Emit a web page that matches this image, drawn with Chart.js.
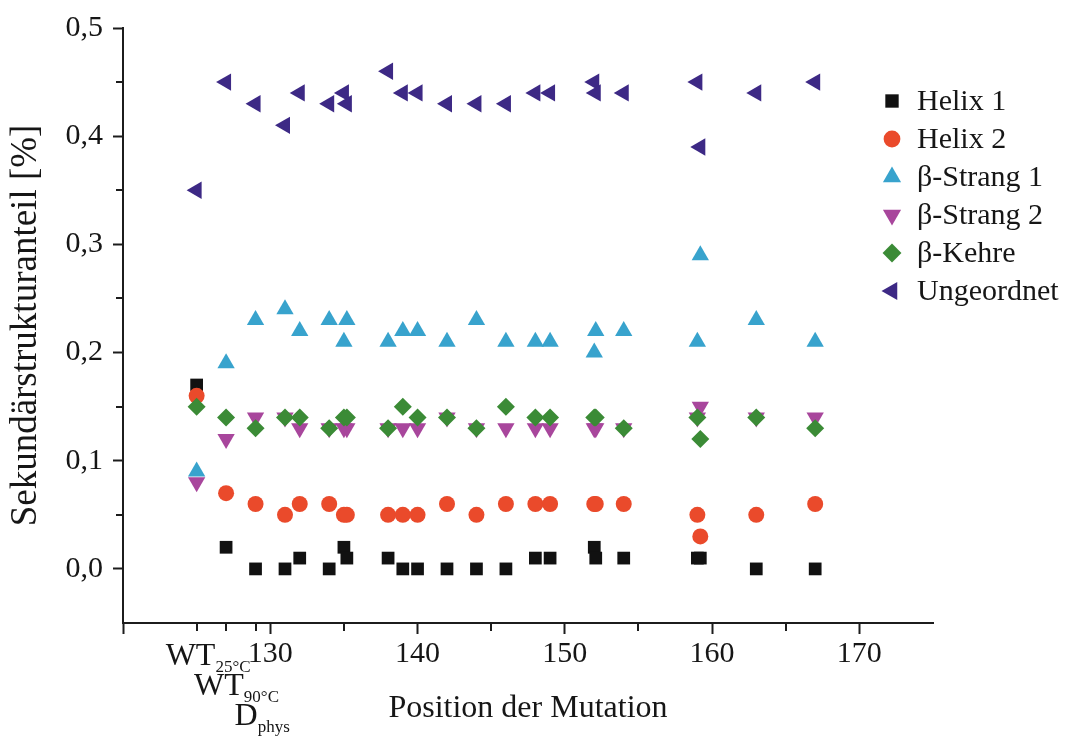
<!DOCTYPE html>
<html lang="de">
<head>
<meta charset="utf-8">
<title>Sekundärstrukturanteil nach Position der Mutation</title>
<script src="https://cdn.jsdelivr.net/npm/chart.js@4.4.1/dist/chart.umd.min.js"></script>
<style>
  html, body { margin: 0; padding: 0; background: #fff; }
  #wrap { width: 1077px; height: 736px; position: relative; }
</style>
</head>
<body>
<div id="wrap"><canvas id="chart"></canvas></div>
<script>
// Mutation positions (125/127/129 hold the WT and D_phys reference samples,
// the .1/.2 entries are second variants at the same position)
const positions = [125, 127, 129, 131, 132, 134, 135, 135.2, 138, 139, 140, 142, 144, 146, 148, 149, 152, 152.1, 154, 159, 159.2, 163, 167];

const helix1     = [0.17, 0.02, 0.00, 0.00, 0.01, 0.00, 0.02, 0.01, 0.01, 0.00, 0.00, 0.00, 0.00, 0.00, 0.01, 0.01, 0.02, 0.01, 0.01, 0.01, 0.01, 0.00, 0.00];
const helix2     = [0.16, 0.07, 0.06, 0.05, 0.06, 0.06, 0.05, 0.05, 0.05, 0.05, 0.05, 0.06, 0.05, 0.06, 0.06, 0.06, 0.06, 0.06, 0.06, 0.05, 0.03, 0.05, 0.06];
const strand1    = [0.09, 0.19, 0.23, 0.24, 0.22, 0.23, 0.21, 0.23, 0.21, 0.22, 0.22, 0.21, 0.23, 0.21, 0.21, 0.21, 0.20, 0.22, 0.22, 0.21, 0.29, 0.23, 0.21];
const strand2    = [0.08, 0.12, 0.14, 0.14, 0.13, 0.13, 0.13, 0.13, 0.13, 0.13, 0.13, 0.14, 0.13, 0.13, 0.13, 0.13, 0.13, 0.13, 0.13, 0.14, 0.15, 0.14, 0.14];
const turn       = [0.15, 0.14, 0.13, 0.14, 0.14, 0.13, 0.14, 0.14, 0.13, 0.15, 0.14, 0.14, 0.13, 0.15, 0.14, 0.14, 0.14, 0.14, 0.13, 0.14, 0.12, 0.14, 0.13];
const disordered = [0.35, 0.45, 0.43, 0.41, 0.44, 0.43, 0.44, 0.43, 0.46, 0.44, 0.44, 0.43, 0.43, 0.43, 0.44, 0.44, 0.45, 0.44, 0.44, 0.45, 0.39, 0.44, 0.45];

const seriesNames = ['Helix 1', 'Helix 2', 'β-Strang 1', 'β-Strang 2', 'β-Kehre', 'Ungeordnet'];
const seriesValues = [helix1, helix2, strand1, strand2, turn, disordered];

const xTicks = [120, 130, 140, 150, 160, 170];
const xMinorTicks = [125, 127, 129, 135, 145, 155, 165];
const yTicks = [0, 0.1, 0.2, 0.3, 0.4, 0.5];
const yMinorTicks = [0.05, 0.15, 0.25, 0.35, 0.45];
const controlTicks = [125, 127, 129];
const controlLabels = [['WT', '25°C'], ['WT', '90°C'], ['D', 'phys']];

const serif = "'Liberation Serif', 'Times New Roman', serif";
const axisColor = '#1c1c1c';
const textColor = '#161616';

const seriesStyles = [
    { color: '#111111', pointStyle: 'rect',     radius: 9,  rotation: 0 },
    { color: '#ea4a2b', pointStyle: 'circle',   radius: 8,  rotation: 0 },
    { color: '#38a3cd', pointStyle: 'triangle', radius: 10, rotation: 0 },
    { color: '#a8469c', pointStyle: 'triangle', radius: 10, rotation: 180 },
    { color: '#3b8b36', pointStyle: 'rectRot',  radius: 9,  rotation: 0 },
    { color: '#3d2985', pointStyle: 'triangle', radius: 10, rotation: 270 },
];

const datasets = seriesNames.map((name, i) => ({
    label: name,
    data: positions.map((x, k) => ({ x, y: seriesValues[i][k] })),
    showLine: false,
    pointStyle: seriesStyles[i].pointStyle,
    pointRotation: seriesStyles[i].rotation,
    pointRadius: seriesStyles[i].radius,
    pointHoverRadius: seriesStyles[i].radius,
    pointBackgroundColor: seriesStyles[i].color,
    pointBorderWidth: 0,
    // later series are drawn on top
    order: seriesNames.length - i,
}));

// minor ticks, the WT/D_phys tick labels and the legend
const decorations = {
    id: 'decorations',
    afterDraw(chart) {
        const { ctx, chartArea, scales: { x, y } } = chart;
        ctx.save();

        ctx.strokeStyle = axisColor;
        ctx.lineWidth = 2;
        ctx.beginPath();
        xMinorTicks.forEach(v => {
            const px = Math.round(x.getPixelForValue(v));
            ctx.moveTo(px, chartArea.bottom);
            ctx.lineTo(px, chartArea.bottom + 8);
        });
        yMinorTicks.forEach(v => {
            const py = Math.round(y.getPixelForValue(v));
            ctx.moveTo(chartArea.left, py);
            ctx.lineTo(chartArea.left - 7, py);
        });
        ctx.stroke();

        const labelShift = [-31, -32, -21];
        ctx.fillStyle = textColor;
        ctx.textAlign = 'left';
        ctx.textBaseline = 'alphabetic';
        controlTicks.forEach((v, i) => {
            const left = x.getPixelForValue(v) + labelShift[i];
            const base = chartArea.bottom + 42 + i * 30;
            const [main, sub] = controlLabels[i];
            ctx.font = `32px ${serif}`;
            ctx.fillText(main, left, base);
            const w = ctx.measureText(main).width;
            ctx.font = `17px ${serif}`;
            ctx.fillText(sub, left + w, base + 7);
        });

        const legendX = 892, legendTop = 101, legendStep = 38;
        chart.data.datasets.forEach((ds, i) => {
            const yRow = legendTop + i * legendStep;
            ctx.fillStyle = ds.pointBackgroundColor;
            Chart.helpers.drawPoint(ctx, {
                pointStyle: ds.pointStyle,
                rotation: ds.pointRotation,
                radius: ds.pointRadius * 1.05,
                borderWidth: 0,
            }, legendX, yRow);
            ctx.fillStyle = textColor;
            ctx.font = `30px ${serif}`;
            ctx.textBaseline = 'middle';
            ctx.fillText(ds.label, legendX + 25, yRow + 1);
        });

        ctx.restore();
    },
};

new Chart(document.getElementById('chart'), {
    type: 'scatter',
    data: { datasets },
    options: {
        responsive: true,
        maintainAspectRatio: false,
        animation: false,
        layout: { padding: { top: 25, right: 144, bottom: 0, left: 0 } },
        plugins: {
            legend: { display: false },
            tooltip: { enabled: false },
        },
        scales: {
            x: {
                type: 'linear',
                min: 120,
                max: 175,
                afterBuildTicks: s => { s.ticks = xTicks.map(v => ({ value: v })); },
                afterFit: s => { s.height = 113; },
                border: { display: true, color: axisColor, width: 2 },
                grid: { drawOnChartArea: false, drawTicks: true, tickLength: 11, tickWidth: 2, color: axisColor, tickColor: axisColor },
                ticks: {
                    padding: 2,
                    color: textColor,
                    maxRotation: 0,
                    autoSkip: false,
                    font: { family: serif, size: 30 },
                    callback: v => (v === 120 ? '' : String(v)),
                },
                title: {
                    display: true,
                    text: 'Position der Mutation',
                    color: textColor,
                    font: { family: serif, size: 32 },
                    padding: { top: 0, bottom: 8 },
                },
            },
            y: {
                type: 'linear',
                min: -0.05,
                max: 0.5,
                afterBuildTicks: s => { s.ticks = yTicks.map(v => ({ value: v })); },
                afterFit: s => { s.width = 123; },
                border: { display: true, color: axisColor, width: 2 },
                grid: { drawOnChartArea: false, drawTicks: true, tickLength: 10, tickWidth: 2, color: axisColor, tickColor: axisColor },
                ticks: {
                    padding: 10,
                    color: textColor,
                    font: { family: serif, size: 30 },
                    callback: v => v.toFixed(1).replace('.', ','),
                },
                title: {
                    display: true,
                    text: 'Sekundärstrukturanteil [%]',
                    color: textColor,
                    font: { family: serif, size: 37 },
                    padding: { top: 4, bottom: 0 },
                },
            },
        },
    },
    plugins: [decorations],
});
</script>
</body>
</html>
